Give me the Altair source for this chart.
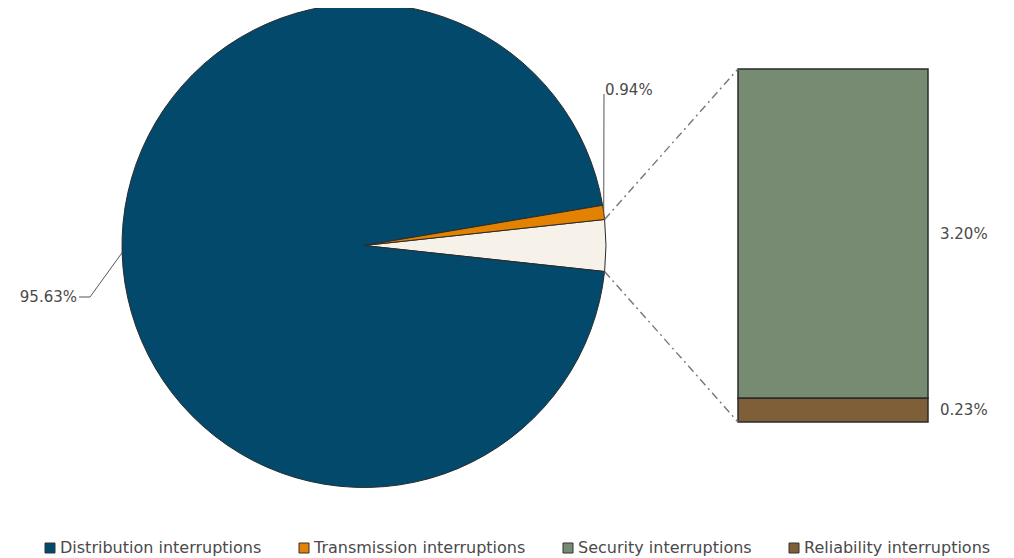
import math
import altair as alt
import pandas as pd

# ---- data ----
categories = ["Distribution interruptions", "Transmission interruptions",
              "Security interruptions", "Reliability interruptions"]
values = [95.63, 0.94, 3.20, 0.23]
labels = ["95.63%", "0.94%", "3.20%", "0.23%"]
colors = ["#02496c", "#e38100", "#778b73", "#7f5f37"]
other_name = "Other"
other_color = "#f6f1e9"

total = sum(values)
other_val = values[2] + values[3]

pie_df = pd.DataFrame({
    "category": [other_name, categories[0], categories[1]],
    "value": [other_val, values[0], values[1]],
    "ord": [0, 1, 2],
    "label": ["", labels[0], labels[1]],
})
bar_df = pd.DataFrame({
    "category": categories[2:],
    "value": values[2:],
    "label": labels[2:],
    "ord": [1, 0],
})

# ---- layout ----
CX, CY, R = 356, 237.5, 242
A0 = math.pi / 2 - other_val / total * math.pi
BAR_X0, BAR_X1 = 730, 920
BAR_TOP, BAR_BOT = 61, 414
FONT = "DejaVu Sans"
TXT = "#4a4a4a"

legend = alt.Legend(
    values=categories, orient="none", legendX=34, legendY=532,
    direction="horizontal", columns=4, title=None,
    symbolType="square", symbolSize=100, symbolStrokeColor="#333",
    symbolStrokeWidth=1, labelFont=FONT, labelFontSize=16, labelColor=TXT,
    columnPadding=34, labelOffset=2, labelLimit=400,
)
color_scale = alt.Scale(domain=categories + [other_name], range=colors + [other_color])
color_enc = alt.Color("category:N", scale=color_scale, legend=legend)

pie = alt.Chart(pie_df).mark_arc(radius=R, stroke="#2b2b2b", strokeWidth=1).encode(
    x=alt.value(CX), y=alt.value(CY),
    theta=alt.Theta("value:Q", stack=True,
                    scale=alt.Scale(domain=[0, total], range=[A0, A0 + 2 * math.pi])),
    order=alt.Order("ord:Q"),
    color=color_enc,
)

yscale = alt.Scale(domain=[0, other_val], range=[BAR_BOT, BAR_TOP])

bar_base = alt.Chart(bar_df).transform_stack(
    stack="value", groupby=[], as_=["y0", "y1"], sort=[alt.SortField("ord")]
)
bars = bar_base.mark_rect(stroke="#2b2b2b", strokeWidth=1.5).encode(
    x=alt.value(BAR_X0), x2=alt.value(BAR_X1),
    y=alt.Y("y0:Q", scale=yscale, axis=None), y2="y1:Q",
    color=color_enc,
)
bar_labels = bar_base.transform_calculate(mid="(datum.y0 + datum.y1) / 2").mark_text(
    align="left", baseline="middle", font=FONT, fontSize=15, color=TXT
).encode(
    x=alt.value(BAR_X1 + 12),
    y=alt.Y("mid:Q", scale=yscale, axis=None),
    text="label:N",
)

geo = alt.Chart(pie_df).transform_window(
    cum="sum(value)", sort=[alt.SortField("ord")], frame=[None, 0]
).transform_calculate(
    a_start=f"{A0} + (datum.cum - datum.value) / {total} * 2 * PI",
    a_end=f"{A0} + datum.cum / {total} * 2 * PI",
).transform_calculate(
    mid="(datum.a_start + datum.a_end) / 2",
).transform_calculate(
    ex=f"{CX} + {R} * sin(datum.mid)",
    ey=f"{CY} - {R} * cos(datum.mid)",
    sx=f"{CX} + {R} * sin(datum.a_start)",
    sy=f"{CY} - {R} * cos(datum.a_start)",
    tx=f"{CX} + {R} * sin(datum.a_end)",
    ty=f"{CY} - {R} * cos(datum.a_end)",
    elx="datum.ord == 1 ? 82 : 596",
    ely="datum.ord == 1 ? 289 : 86",
)

leaders = geo.transform_filter("datum.ord > 0").mark_rule(color="#555", strokeWidth=1).encode(
    x=alt.X("ex:Q", scale=None), y=alt.Y("ey:Q", scale=None),
    x2="elx:Q", y2="ely:Q",
)
leader_tail = alt.Chart(pie_df).transform_filter("datum.ord == 1").mark_rule(
    color="#555", strokeWidth=1
).encode(x=alt.value(71), x2=alt.value(82), y=alt.value(289))

conn_top = geo.transform_filter("datum.ord == 0").mark_rule(
    color="#777", strokeWidth=1.4, strokeDash=[8, 4, 2, 4]
).encode(
    x=alt.X("sx:Q", scale=None), y=alt.Y("sy:Q", scale=None),
    x2=alt.value(BAR_X0), y2=alt.value(BAR_TOP),
)
conn_bot = geo.transform_filter("datum.ord == 0").mark_rule(
    color="#777", strokeWidth=1.4, strokeDash=[8, 4, 2, 4]
).encode(
    x=alt.X("tx:Q", scale=None), y=alt.Y("ty:Q", scale=None),
    x2=alt.value(BAR_X0), y2=alt.value(BAR_BOT),
)

lab_dist = alt.Chart(pie_df).transform_filter("datum.ord == 1").mark_text(
    align="right", baseline="middle", font=FONT, fontSize=15, color=TXT
).encode(x=alt.value(69), y=alt.value(289), text="label:N")
lab_trans = alt.Chart(pie_df).transform_filter("datum.ord == 2").mark_text(
    align="left", baseline="middle", font=FONT, fontSize=15, color=TXT
).encode(x=alt.value(597), y=alt.value(82), text="label:N")

chart = alt.layer(
    pie, bars, bar_labels, leaders, leader_tail, conn_top, conn_bot, lab_dist, lab_trans
).properties(
    width=998, height=550, autosize=alt.AutoSizeParams(type="none"), padding=0,
    background="white",
).configure_view(stroke=None)

chart.save("out.html", embed_options={"renderer": "svg", "actions": False})
